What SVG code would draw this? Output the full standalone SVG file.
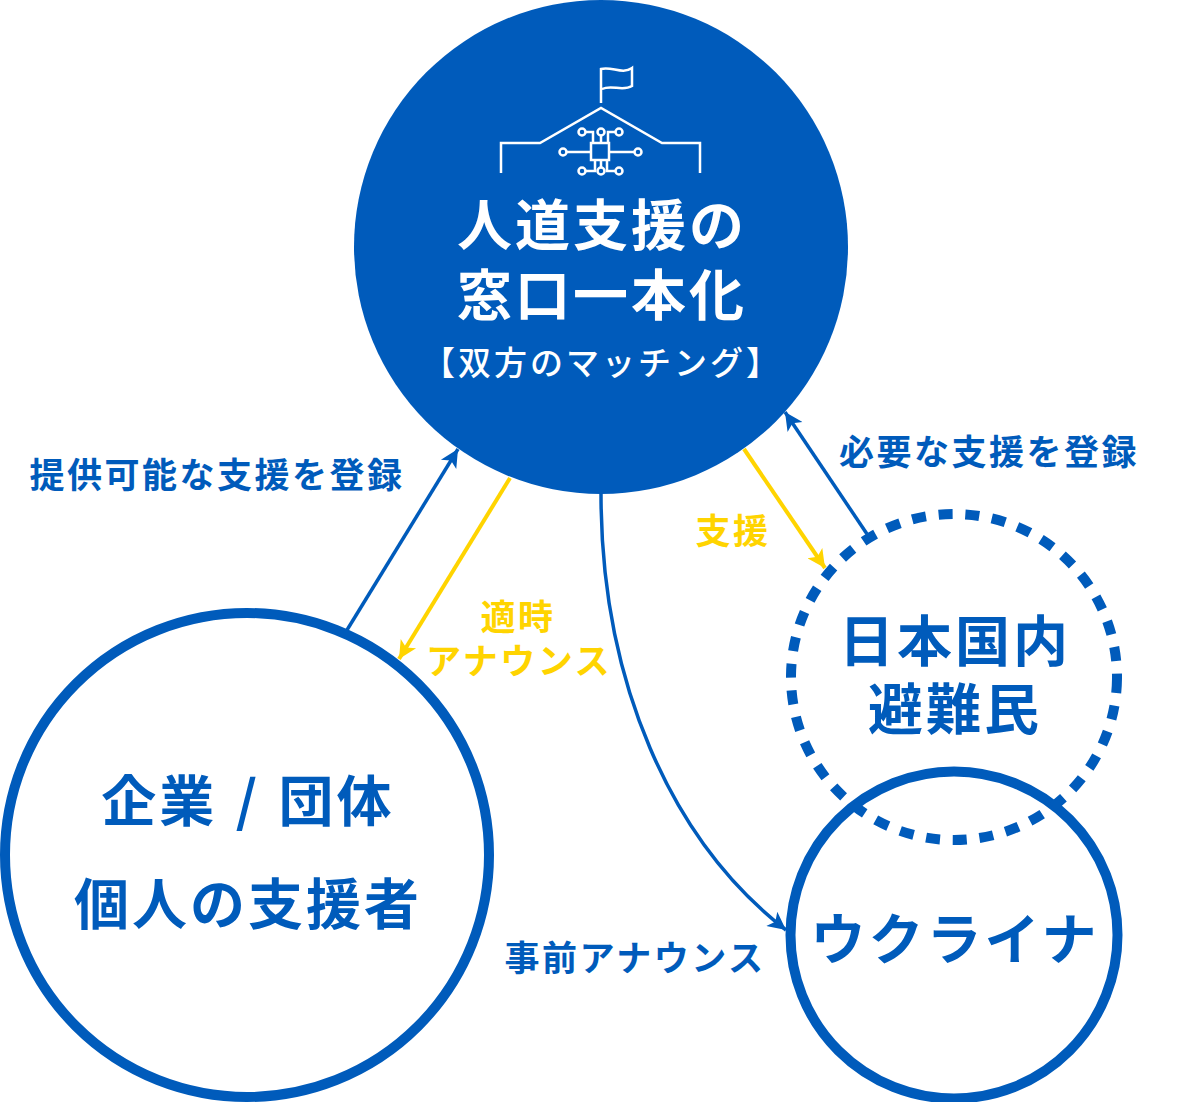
<svg xmlns="http://www.w3.org/2000/svg" width="1200" height="1102" viewBox="0 0 1200 1102">
<style>
text{font-family:"Noto Sans CJK JP","Noto Sans",sans-serif;font-weight:700;text-anchor:middle}
.big{font-size:55px;letter-spacing:3px;fill:#005bbb}
.hub{font-size:55px;letter-spacing:3px;fill:#fff}
.sub{font-size:33px;font-weight:500;letter-spacing:3px;fill:#fff}
.lab{font-size:35px;font-weight:700;letter-spacing:2.500px;fill:#005bbb}
.yel{fill:#ffd400}
.ring{fill:none;stroke:#005bbb;stroke-width:10}
.ic{fill:none;stroke:#fff;stroke-width:2.500}
.b{fill:none;stroke:#005bbb;stroke-width:3.500}
.y{fill:none;stroke:#ffd400;stroke-width:4}
</style>
<defs>
<marker id="ab" viewBox="0 0 10 10" refX="10" refY="5" markerWidth="21" markerHeight="18" markerUnits="userSpaceOnUse" orient="auto"><path d="M0 0L10 5L0 10L2.500 5Z" fill="#005bbb"/></marker>
<marker id="ay" viewBox="0 0 10 10" refX="10" refY="5" markerWidth="21" markerHeight="18" markerUnits="userSpaceOnUse" orient="auto"><path d="M0 0L10 5L0 10L2.500 5Z" fill="#ffd400"/></marker>
</defs>
<rect width="1200" height="1102" fill="#fff"/>
<g id="hub">
<circle cx="601" cy="247" r="247" fill="#005bbb"/>
<g id="icon" class="ic">
<path d="M601 103V69C612 66 622 75 632 68V86C622 92 612 84 602 89"/>
<path d="M501 173V143H540L601 108L662 143H700V173"/>
<rect x="591" y="143" width="18" height="17"/>
<path d="M591 152H566M609 152H634M601 143V136M586 132H593V143M615 132H608V143M601 160V167M586 171H595V160M615 171H607V160"/>
<circle cx="563" cy="152" r="3.500"/><circle cx="638" cy="152" r="3.500"/>
<circle cx="582" cy="132" r="3.500"/><circle cx="601" cy="132" r="3.500"/><circle cx="619" cy="132" r="3.500"/>
<circle cx="582" cy="171" r="3.500"/><circle cx="601" cy="171" r="3.500"/><circle cx="619" cy="171" r="3.500"/>
</g>
<text class="hub" x="602" y="245">人道支援の</text>
<text class="hub" x="602" y="315">窓口一本化</text>
<text class="sub" x="602" y="375">【双方のマッチング】</text>
</g>
<g id="donors">
<circle class="ring" cx="247" cy="855" r="242"/>
<text class="big" x="248" y="821" style="word-spacing:3px;">企業 / 団体</text>
<text class="big" x="248" y="924">個人の支援者</text>
</g>
<g id="ukraine">
<circle class="ring" cx="954" cy="935" r="163.500"/>
<text class="big" x="955" y="959">ウクライナ</text>
</g>
<g id="refugees">
<circle cx="954" cy="677" r="163" fill="none" stroke="#005bbb" stroke-width="10" stroke-dasharray="14 12.800" transform="rotate(0.700 954 677)"/>
<text class="big" x="955" y="661">日本国内</text>
<text class="big" x="955" y="729">避難民</text>
</g>
<g id="connectors">
<path class="b" d="M347 630L458 449" marker-end="url(#ab)"/>
<path class="y" d="M510 478L399 659" marker-end="url(#ay)"/>
<path class="y" d="M744 449L825 568" marker-end="url(#ay)"/>
<path class="b" d="M867 534L785 412" marker-end="url(#ab)"/>
<path class="b" d="M601 494C601 680 670 840 786 930" marker-end="url(#ab)"/>
</g>
<g id="labels">
<text class="lab" x="217" y="488">提供可能な支援を登録</text>
<text class="lab" x="989" y="465">必要な支援を登録</text>
<text class="lab" x="635" y="971">事前アナウンス</text>
<text class="lab yel" x="733" y="544">支援</text>
<text class="lab yel" x="518" y="630">適時</text>
<text class="lab yel" x="519" y="674">アナウンス</text>
</g>
</svg>
